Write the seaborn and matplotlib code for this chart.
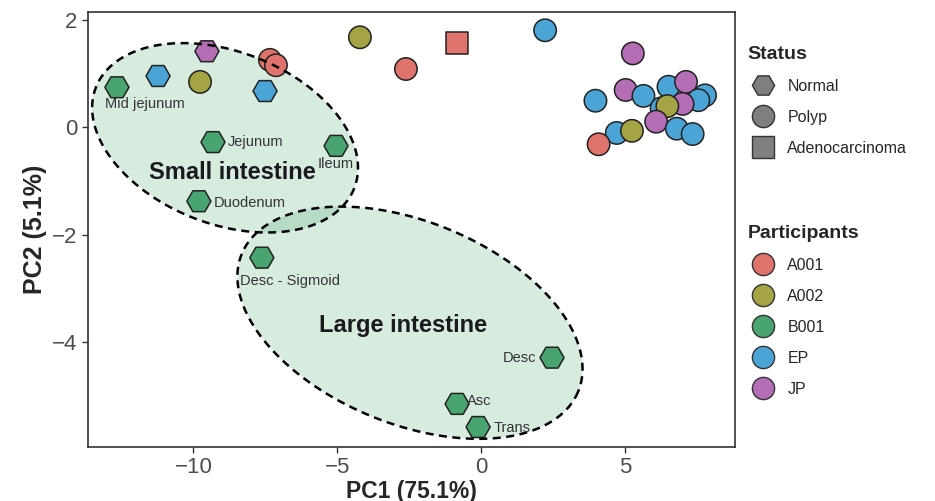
import numpy as np
import pandas as pd
import seaborn as sns
import matplotlib.pyplot as plt
from matplotlib.lines import Line2D

sns.set_theme(style="white")
plt.rcParams['font.family'] = ['Liberation Sans', 'DejaVu Sans']

# PCA scores
pc1 = [-12.66, -9.32, -5.04, -9.81, -7.62, 2.47, -0.83, -0.10,
       -11.23, -7.51, -9.53,
       -9.77, -7.34, -7.13, -4.21, -2.61, -0.83, 2.23,
       5.28, 3.98, 5.03, 5.65, 6.52, 7.13, 7.79, 7.56, 7.01, 6.28, 6.48,
       6.09, 6.81, 7.36, 4.72, 5.25, 4.09]
pc2 = [0.74, -0.28, -0.35, -1.38, -2.43, -4.29, -5.15, -5.58,
       0.95, 0.67, 1.41,
       0.84, 1.25, 1.15, 1.67, 1.08, 1.56, 1.80,
       1.37, 0.49, 0.69, 0.58, 0.75, 0.84, 0.59, 0.50, 0.43, 0.35, 0.39,
       0.10, -0.03, -0.13, -0.11, -0.07, -0.32]
participant = ["B001"] * 8 + ["EP", "EP", "JP"] + \
    ["A002", "A001", "A001", "A002", "A001", "A001", "EP"] + \
    ["JP", "EP", "JP", "EP", "EP", "JP", "EP", "EP", "JP", "EP", "A002",
     "JP", "EP", "EP", "EP", "A002", "A001"]
status = ["Normal"] * 11 + ["Polyp"] * 5 + ["Adenocarcinoma"] + ["Polyp"] * 18

site_labels = ["Mid jejunum", "Jejunum", "Ileum", "Duodenum", "Desc - Sigmoid",
               "Desc", "Asc", "Trans"]
site_offsets = [(0.98, -0.32), (0.52, 0.0), (0.0, -0.33), (0.52, -0.04),
                (-0.75, -0.43), (-0.55, 0.0), (0.35, 0.06), (0.55, -0.02)]
site_ha = ["center", "left", "center", "left", "left", "right", "left", "left"]

participants = ["A001", "A002", "B001", "EP", "JP"]
colors = ["#E0736B", "#A4A445", "#49A56F", "#4BA4D6", "#B56EB5"]
statuses = ["Normal", "Polyp", "Adenocarcinoma"]
markers = {"Normal": "H", "Polyp": "o", "Adenocarcinoma": "s"}
sizes = {"Normal": 300, "Polyp": 260, "Adenocarcinoma": 230}

# groups: center, major axis vector, minor axis vector (data units)
groups = ["Small intestine", "Large intestine"]
ell_center = [(-8.9, -0.2), (-2.47, -3.64)]
ell_major = [(4.49, -0.94), (5.85, -1.28)]
ell_minor = [(-1.10, -1.49), (-1.34, -1.74)]
group_text_pos = [(-8.66, -0.84), (-2.71, -3.70)]

df = pd.DataFrame({"PC1": pc1, "PC2": pc2, "Participants": participant,
                   "Status": status})

fig, ax = plt.subplots(figsize=(9.35, 5.01), dpi=100)
fig.subplots_adjust(left=0.094, right=0.786, top=0.976, bottom=0.108)

t = np.linspace(0, 2 * np.pi, 300)
for c, a, b in zip(ell_center, ell_major, ell_minor):
    ex = c[0] + np.cos(t) * a[0] + np.sin(t) * b[0]
    ey = c[1] + np.cos(t) * a[1] + np.sin(t) * b[1]
    ax.fill(ex, ey, color="#49A56F", alpha=0.22, lw=0, zorder=1)
    ax.plot(ex, ey, color="black", ls=(0, (3.2, 2.2)), lw=1.8, zorder=4)

pal = dict(zip(participants, colors))
for st in statuses:
    sub = df[df["Status"] == st]
    sns.scatterplot(data=sub, x="PC1", y="PC2", hue="Participants",
                    palette=pal, marker=markers[st], s=sizes[st],
                    edgecolor="#222222", linewidth=1.1, legend=False,
                    ax=ax, zorder=3)

for i, lab in enumerate(site_labels):
    dx, dy = site_offsets[i]
    ax.text(pc1[i] + dx, pc2[i] + dy, lab, fontsize=10.5, color="#333333",
            ha=site_ha[i], va="center", zorder=5)

for g, (gx, gy) in zip(groups, group_text_pos):
    ax.text(gx, gy, g, fontsize=17, fontweight="bold", color="#1a1a1a",
            ha="center", va="center", zorder=5)

ax.set_xlim(-13.67, 8.83)
ax.set_ylim(-5.95, 2.14)
ax.set_xticks([-10, -5, 0, 5])
ax.set_yticks([-4, -2, 0, 2])
ax.set_xlabel("PC1 (75.1%)", fontsize=16.5, fontweight="bold", labelpad=1)
ax.set_ylabel("PC2 (5.1%)", fontsize=18, fontweight="bold", labelpad=4)
ax.tick_params(axis="both", labelsize=16, labelcolor="#4d4d4d",
               length=4, width=1, color="#333333", bottom=True, left=True)
for sp in ax.spines.values():
    sp.set_color("#333333")
    sp.set_linewidth(1.2)

status_handles = [Line2D([], [], marker=markers[s], ls="", markersize=16,
                         markerfacecolor="#7f7f7f", markeredgecolor="#333333",
                         label=s) for s in statuses]
part_handles = [Line2D([], [], marker="o", ls="", markersize=16,
                       markerfacecolor=c, markeredgecolor="#333333", label=p)
                for p, c in zip(participants, colors)]

leg_kw = dict(loc="upper left", frameon=False, fontsize=11.5,
              title_fontproperties={"weight": "bold", "size": 14},
              labelspacing=1.0, handletextpad=0.5, alignment="left")
leg1 = fig.legend(handles=status_handles, title="Status",
                  bbox_to_anchor=(0.784, 0.937), **leg_kw)
leg2 = fig.legend(handles=part_handles, title="Participants",
                  bbox_to_anchor=(0.784, 0.58), **leg_kw)

plt.savefig("out.png", dpi=100)
